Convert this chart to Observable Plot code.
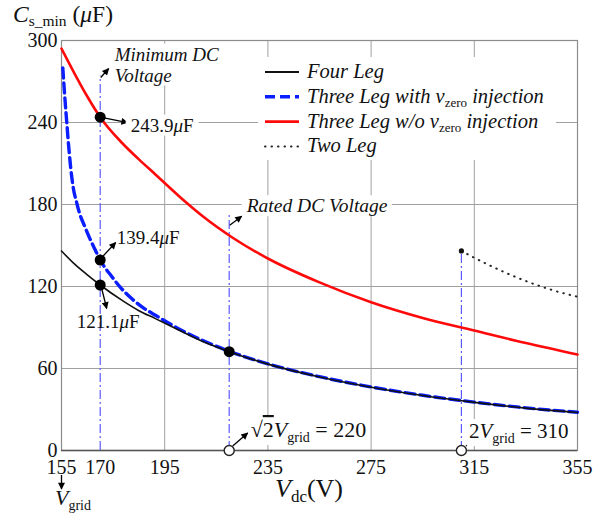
<!DOCTYPE html>
<html>
<head>
<meta charset="utf-8">
<script src="https://cdn.jsdelivr.net/npm/d3@7"></script>
<script src="https://cdn.jsdelivr.net/npm/@observablehq/plot@0.6"></script>
<style>
  body { margin: 0; background: #fff; }
  svg { font-family: "Liberation Serif", "Times New Roman", serif; }
</style>
</head>
<body>
<div id="chart"></div>
<script>
// DC-link voltage (V) and minimum capacitance Cs_min (µF) per topology
const fourLegV = [155, 160, 165, 170, 178.5, 185, 191.4, 200, 210, 220, 235, 255, 275, 295, 315, 335, 355];
const fourLegC = [146, 136.5, 128.5, 121.1, 109.8, 102.3, 96.5, 88.5, 79.5, 72.3, 63.2, 53.8, 46.3, 40.2, 35.2, 31, 27.8];

const threeLegZeroV = [155.5, 156, 156.5, 157, 157.5, 158, 158.5, 159.5, 161, 162, 164, 166, 168, 170, 174.6, 178, 182.3, 187, 191.4, 200, 210, 220, 235, 255, 275, 295, 315, 335, 355];
const threeLegZeroC = [280, 266, 253, 241, 229, 218, 208, 193, 180.5, 173.5, 164, 155, 147, 139.4, 127, 119, 111, 104, 99, 89.5, 80.3, 72.6, 63.4, 54, 46.5, 40.4, 35.4, 31.2, 28];

const threeLegV = [155, 160, 165, 170, 178.5, 185, 191.4, 203, 210, 221.5, 235, 255, 275, 295, 315, 335, 355];
const threeLegC = [294, 276, 259, 243.9, 225, 213, 202, 182, 171, 155.5, 140.5, 123, 108.5, 97, 87.8, 78.6, 70.2];

const twoLegV = [310, 322, 335, 345, 355];
const twoLegC = [146, 134.5, 124, 117.5, 112.5];

// Operating points called out on the curves
const calloutV = [170, 170, 170, 220];
const calloutC = [243.9, 139.4, 121.1, 72.3];

// Reference voltages (vertical markers) and the height each marker reaches
const markerV = [170, 220, 310];
const markerTop = [274, 174, 146];
const gridRailV = [220, 310];   // √2·Vgrid and 2·Vgrid

// Axis ticks and grid
const xTicks = [155, 170, 195, 235, 275, 315, 355];
const yTicks = [0, 60, 120, 180, 240, 300];
const xGrid = [195, 235, 275, 315];
const yGrid = [60, 120, 180, 240];

const legendItems = ["Four Leg", "Three Leg with", "Three Leg w/o", "Two Leg"];

const rows = (vs, cs) => vs.map((v, i) => ({v, c: cs[i]}));
const fourLeg = rows(fourLegV, fourLegC);
const threeLegZero = rows(threeLegZeroV, threeLegZeroC);
const threeLeg = rows(threeLegV, threeLegC);
const twoLeg = rows(twoLegV, twoLegC);
const callouts = rows(calloutV, calloutC);
const markers = markerV.map((v, i) => ({v, top: markerTop[i]}));

const RED = "#ff0a0a", BLUE = "#0a1eff", MARK = "#5a5aff", GRID = "#a0a0a0";

const chart = Plot.plot({
  width: 613,
  height: 514,
  marginLeft: 61,
  marginRight: 36,
  marginTop: 40,
  marginBottom: 64,
  style: {fontFamily: "Liberation Serif, serif", background: "#fff", overflow: "visible", color: "#111"},
  x: {domain: [155, 355]},
  y: {domain: [0, 300]},
  marks: [
    Plot.gridX(xGrid, {stroke: GRID, strokeOpacity: 1, strokeWidth: 1}),
    Plot.gridY(yGrid, {stroke: GRID, strokeOpacity: 1, strokeWidth: 1}),
    Plot.frame({stroke: "#8c8c8c", strokeWidth: 1.2}),
    Plot.ruleY([0], {stroke: "#555", strokeWidth: 1.6}),
    Plot.axisX(xTicks, {tickSize: 0, tickPadding: 9, fontSize: 20, label: null}),
    Plot.axisY(yTicks, {tickSize: 0, tickPadding: 4, fontSize: 20, label: null}),
    Plot.ruleX(markers, {x: "v", y1: 0, y2: "top", stroke: MARK, strokeWidth: 1.2, strokeDasharray: "9,3,2,3"}),
    Plot.line(threeLeg, {x: "v", y: "c", stroke: RED, strokeWidth: 2.6, curve: "monotone-x"}),
    Plot.line(threeLegZero, {x: "v", y: "c", stroke: BLUE, strokeWidth: 3.4, strokeDasharray: "10,5", curve: "monotone-x"}),
    Plot.line(fourLeg, {x: "v", y: "c", stroke: "#111", strokeWidth: 1.6, curve: "monotone-x"}),
    Plot.line(twoLeg, {x: "v", y: "c", stroke: "#222", strokeWidth: 2, strokeDasharray: "0.5,6", strokeLinecap: "round", curve: "monotone-x"}),
    Plot.dot(twoLeg.slice(0, 1), {x: "v", y: "c", r: 2.6, fill: "#111"}),
    Plot.dot(callouts, {x: "v", y: "c", r: 5.5, fill: "#000"}),
    Plot.dot(gridRailV, {x: d => d, y: 0, r: 5, fill: "#fff", stroke: "#222", strokeWidth: 1.4})
  ]
});
document.getElementById("chart").append(chart);

const sx = chart.scale("x"), sy = chart.scale("y");
const svg = d3.select(chart);

svg.append("defs").append("marker")
  .attr("id", "head")
  .attr("viewBox", "0 0 10 10")
  .attr("refX", 9).attr("refY", 5)
  .attr("markerUnits", "userSpaceOnUse")
  .attr("markerWidth", 9).attr("markerHeight", 7)
  .attr("orient", "auto")
  .append("path").attr("d", "M0,0L10,5L0,10Z").attr("fill", "#000");

const layer = svg.append("g").attr("text-anchor", "start");

// Text made of styled runs (italic, subscripts); optional white backing box
function rich(x, y, parts, {size = 19, bg = false, pad = 4, parent = layer} = {}) {
  const g = parent.append("g");
  const t = g.append("text").attr("x", x).attr("y", y).attr("font-size", size)
    .attr("fill", "#111").attr("text-anchor", "start");
  let shift = 0;
  for (const p of parts) {
    const s = t.append("tspan").text(p.t);
    if (p.i) s.attr("font-style", "italic");
    if (p.size) s.attr("font-size", p.size);
    if (p.over) s.attr("text-decoration", "overline");
    const target = p.shift || 0;
    if (target !== shift) { s.attr("dy", target - shift); shift = target; }
  }
  if (bg) {
    const b = t.node().getBBox();
    g.insert("rect", "text").attr("x", b.x - pad).attr("y", b.y)
      .attr("width", b.width + 2 * pad).attr("height", b.height).attr("fill", "#fff");
  }
  return g;
}

function arrow(x1, y1, x2, y2) {
  layer.append("line").attr("x1", x1).attr("y1", y1).attr("x2", x2).attr("y2", y2)
    .attr("stroke", "#000").attr("stroke-width", 1.3).attr("marker-end", "url(#head)");
}

const uF = v => [{t: v}, {t: "μ", i: true}, {t: "F"}];

// Minimum DC voltage marker
{
  const x = sx.apply(markerV[0]), y = sy.apply(markerTop[0]);
  rich(x + 15, y - 15, [{t: "Minimum DC", i: true}], {bg: true});
  rich(x + 15, y + 6, [{t: "Voltage", i: true}], {bg: true});
  arrow(x + 1, y + 2, x + 9, y - 7);
}
// Rated DC voltage marker
{
  const x = sx.apply(markerV[1]), y = sy.apply(markerTop[1]);
  rich(x + 18, y, [{t: "Rated DC Voltage", i: true}], {size: 19.5, bg: true});
  arrow(x + 1, y + 13, x + 13, y + 4);
}

// Callout values
{
  const [a, b, c] = callouts;
  const ax = sx.apply(a.v), ay = sy.apply(a.c);
  arrow(ax + 3, ay + 1, ax + 28, ay + 6);
  rich(ax + 31, ay + 15, uF("243.9"), {bg: true, pad: 5});
  const bx = sx.apply(b.v), by = sy.apply(b.c);
  arrow(bx + 3, by - 3, bx + 16, by - 17);
  rich(bx + 17, by - 15, uF("139.4"));
  const cx = sx.apply(c.v), cy = sy.apply(c.c);
  arrow(cx + 2, cy + 4, cx + 7, cy + 24);
  rich(cx - 23, cy + 44, uF("121.1"));
}

// Grid-voltage rails on the x axis
{
  const y0 = sy.apply(0);
  const x1 = sx.apply(gridRailV[0]);
  arrow(x1 + 4, y0 - 4, x1 + 19, y0 - 17);
  rich(x1 + 22, y0 - 13, [{t: "√"}, {t: "2", over: true}, {t: "V", i: true}, {t: "grid", size: 14, shift: 5}, {t: " = 220", shift: 0}], {size: 22, bg: true, pad: 2});
  const x2 = sx.apply(gridRailV[1]);
  arrow(x2 + 5, y0 - 4, x2 + 15, y0 - 10);
  rich(x2 + 8, y0 - 12, [{t: "2"}, {t: "V", i: true}, {t: "grid", size: 14, shift: 5}, {t: " = 310", shift: 0}], {size: 21, bg: true, pad: 2});

  const xg = sx.apply(155);
  arrow(xg + 0.5, y0 + 25, xg + 0.5, y0 + 39);
  rich(xg - 6, y0 + 55, [{t: "V", i: true}, {t: "grid", size: 14, shift: 5}], {size: 22});
}

// Axis titles
rich(13, 22, [{t: "C", i: true}, {t: "s_min", size: 15.5, shift: 4}, {t: " (", shift: 0}, {t: "μ", i: true}, {t: "F)"}], {size: 23.5});
rich(275, 497, [{t: "V", i: true}, {t: "dc", size: 17, shift: 5}, {t: "(V)", shift: 0}], {size: 26});

// Legend
{
  const lg = svg.append("g").attr("text-anchor", "start");
  lg.append("rect").attr("x", 258).attr("y", 57).attr("width", 298).attr("height", 103).attr("fill", "#fff");
  const styles = [
    {stroke: "#111", w: 1.8, dash: null},
    {stroke: BLUE, w: 3.4, dash: "10,5"},
    {stroke: RED, w: 2.6, dash: null},
    {stroke: "#222", w: 2, dash: "0.5,6"}
  ];
  const zeroParts = [{t: "v", i: true}, {t: "zero", size: 13, shift: 4}, {t: " injection", i: true, shift: 0}];
  const labels = [
    [{t: legendItems[0], i: true}],
    [{t: legendItems[1] + " ", i: true}, ...zeroParts],
    [{t: legendItems[2] + " ", i: true}, ...zeroParts],
    [{t: legendItems[3], i: true}]
  ];
  styles.forEach((s, i) => {
    const y = 72 + i * 24.8;
    const ln = lg.append("line").attr("x1", 265).attr("x2", 299).attr("y1", y).attr("y2", y)
      .attr("stroke", s.stroke).attr("stroke-width", s.w).attr("stroke-linecap", i === 3 ? "round" : "butt");
    if (s.dash) ln.attr("stroke-dasharray", s.dash);
    rich(307, y + 6, labels[i], {size: 20.5, parent: lg});
  });
}
</script>
</body>
</html>
